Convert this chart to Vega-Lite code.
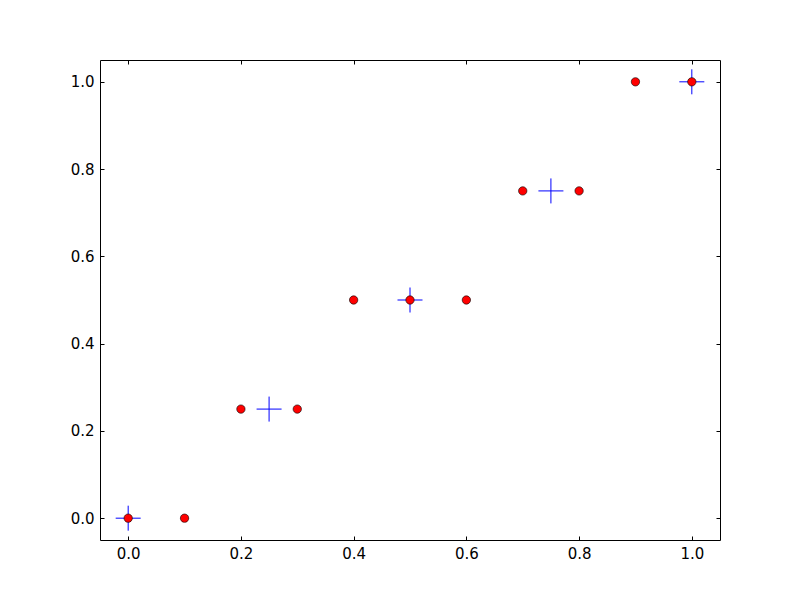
{
  "$schema": "https://vega.github.io/schema/vega-lite/v6.json",
  "width": 620,
  "height": 480,
  "autosize": "none",
  "padding": {"left": 100, "top": 60, "right": 80, "bottom": 60},
  "background": "white",
  "config": {
    "view": {"stroke": "black", "strokeWidth": 1},
    "axis": {
      "grid": false,
      "domain": false,
      "labelFont": "DejaVu Sans",
      "labelFontSize": 15,
      "labelColor": "black",
      "tickColor": "black",
      "tickSize": -4,
      "labelPadding": 10,
      "title": null
    }
  },
  "data": {
    "values": [
      {"x": 0.0, "y": 0.0, "kind": "cross"},
      {"x": 0.25, "y": 0.25, "kind": "cross"},
      {"x": 0.5, "y": 0.5, "kind": "cross"},
      {"x": 0.75, "y": 0.75, "kind": "cross"},
      {"x": 1.0, "y": 1.0, "kind": "cross"},
      {"x": 0.0, "y": 0.0, "kind": "dot"},
      {"x": 0.1, "y": 0.0, "kind": "dot"},
      {"x": 0.2, "y": 0.25, "kind": "dot"},
      {"x": 0.3, "y": 0.25, "kind": "dot"},
      {"x": 0.4, "y": 0.5, "kind": "dot"},
      {"x": 0.5, "y": 0.5, "kind": "dot"},
      {"x": 0.6, "y": 0.5, "kind": "dot"},
      {"x": 0.7, "y": 0.75, "kind": "dot"},
      {"x": 0.8, "y": 0.75, "kind": "dot"},
      {"x": 0.9, "y": 1.0, "kind": "dot"},
      {"x": 1.0, "y": 1.0, "kind": "dot"}
    ]
  },
  "resolve": {"axis": {"x": "independent", "y": "independent"}},
  "layer": [
    {
      "transform": [{"filter": "datum.kind === 'cross'"}],
      "mark": {"type": "point", "shape": "M-1,0H1M0,-1V1", "size": 625, "stroke": "#0000ff", "strokeWidth": 1, "filled": false, "opacity": 1},
      "encoding": {
        "x": {"field": "x", "type": "quantitative", "scale": {"domain": [-0.05, 1.05], "nice": false, "zero": false},
              "axis": {"orient": "top", "labels": false, "tickSize": -4, "values": [0, 0.2, 0.4, 0.6, 0.8, 1.0]}},
        "y": {"field": "y", "type": "quantitative", "scale": {"domain": [-0.05, 1.05], "nice": false, "zero": false},
              "axis": {"orient": "right", "labels": false, "tickSize": -4, "values": [0, 0.2, 0.4, 0.6, 0.8, 1.0]}}
      }
    },
    {
      "transform": [{"filter": "datum.kind === 'dot'"}],
      "mark": {"type": "point", "shape": "circle", "size": 70, "fill": "#ff0000", "stroke": "black", "strokeWidth": 0.6, "filled": true, "opacity": 1},
      "encoding": {
        "x": {"field": "x", "type": "quantitative", "scale": {"domain": [-0.05, 1.05], "nice": false, "zero": false},
              "axis": {"orient": "bottom", "labelFontSize": 15, "labelFont": "DejaVu Sans", "labelPadding": 10, "values": [0, 0.2, 0.4, 0.6, 0.8, 1.0], "format": ".1f"}},
        "y": {"field": "y", "type": "quantitative", "scale": {"domain": [-0.05, 1.05], "nice": false, "zero": false},
              "axis": {"orient": "left", "labelFontSize": 15, "labelFont": "DejaVu Sans", "labelPadding": 10, "values": [0, 0.2, 0.4, 0.6, 0.8, 1.0], "format": ".1f"}}
      }
    }
  ]
}
